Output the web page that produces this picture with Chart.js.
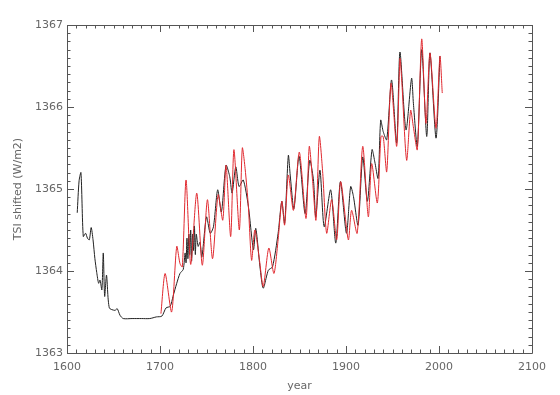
<!DOCTYPE html>
<html>
<head>
<meta charset="utf-8">
<script src="https://cdn.jsdelivr.net/npm/chart.js@4"></script>
<style>
  html, body { margin: 0; padding: 0; background: #fff; }
  #wrap { width: 560px; height: 395px; }
</style>
</head>
<body>
<div id="wrap"><canvas id="tsiChart" width="560" height="395"></canvas></div>
<script>
// TSI reconstruction (black) vs. shifted comparison series (red)
const blackYears = [1611, 1613, 1615, 1617.5, 1620, 1622, 1624, 1626, 1628, 1630, 1632, 1634, 1635.5, 1637.5, 1639, 1640.5, 1642.5, 1645.5, 1651.5, 1654, 1657, 1660.5, 1670, 1680, 1689, 1696, 1702, 1706.5, 1711, 1714, 1718, 1721.5, 1725, 1727, 1728, 1729, 1730, 1731, 1732, 1733, 1734, 1735, 1736, 1737, 1738, 1739, 1741, 1743, 1745, 1750, 1754, 1757.5, 1762, 1766, 1771, 1775, 1777.5, 1781.5, 1785, 1789.5, 1795, 1800.5, 1803, 1807.5, 1811, 1816.5, 1821, 1827, 1831, 1834, 1838, 1840, 1844, 1849.5, 1856, 1861, 1865, 1867.5, 1872, 1876.5, 1883.5, 1889, 1894, 1900.5, 1905, 1908, 1913, 1918, 1923, 1928, 1931, 1934.5, 1937.3, 1940, 1943.8, 1949, 1954.5, 1958, 1964.5, 1970.5, 1972.5, 1976.7, 1981.4, 1986.8, 1990.3, 1996.8, 2001];
const blackTSI = [1364.71, 1365.10, 1365.20, 1364.42, 1364.46, 1364.40, 1364.38, 1364.53, 1364.38, 1364.15, 1363.98, 1363.85, 1363.89, 1363.77, 1364.22, 1363.69, 1363.95, 1363.55, 1363.52, 1363.54, 1363.46, 1363.42, 1363.42, 1363.42, 1363.42, 1363.44, 1363.45, 1363.55, 1363.57, 1363.69, 1363.85, 1363.97, 1364.02, 1364.22, 1364.10, 1364.40, 1364.15, 1364.45, 1364.20, 1364.50, 1364.12, 1364.45, 1364.25, 1364.55, 1364.20, 1364.45, 1364.30, 1364.35, 1364.17, 1364.66, 1364.46, 1364.54, 1364.99, 1364.72, 1365.29, 1365.15, 1364.95, 1365.27, 1365.03, 1365.11, 1364.79, 1364.26, 1364.52, 1364.05, 1363.79, 1364.01, 1364.05, 1364.46, 1364.85, 1364.58, 1365.41, 1365.17, 1364.76, 1365.40, 1364.70, 1365.35, 1365.11, 1364.66, 1365.23, 1364.54, 1364.99, 1364.34, 1365.09, 1364.46, 1365.03, 1364.91, 1364.56, 1365.39, 1364.85, 1365.48, 1365.33, 1365.13, 1365.84, 1365.70, 1365.60, 1366.33, 1365.56, 1366.67, 1365.72, 1366.35, 1366.04, 1365.52, 1366.70, 1365.64, 1366.66, 1365.62, 1366.62];

const redYears = [1701, 1705.5, 1712.5, 1718, 1721.5, 1724, 1728, 1733, 1739.5, 1745.5, 1751, 1756.5, 1762.5, 1767.5, 1771, 1776, 1779.5, 1785.3, 1788.5, 1791.5, 1795, 1798.5, 1802, 1807, 1811, 1817, 1822.5, 1827, 1831, 1834, 1838, 1843.5, 1849.8, 1857, 1860.5, 1864, 1867.7, 1871.3, 1875, 1879.2, 1884.6, 1890, 1894.3, 1902.5, 1906, 1912, 1918, 1924, 1927.6, 1933.7, 1937.6, 1940, 1943.8, 1948.4, 1954.5, 1958, 1959.8, 1965.2, 1969.5, 1972.4, 1976.7, 1981.4, 1986, 1990.3, 1996.8, 2001, 2003.5];
const redTSI = [1363.48, 1363.97, 1363.50, 1364.30, 1364.09, 1364.05, 1365.11, 1364.08, 1364.95, 1364.07, 1364.87, 1364.15, 1364.93, 1364.62, 1365.29, 1364.42, 1365.48, 1364.50, 1365.50, 1365.25, 1364.79, 1364.13, 1364.50, 1364.13, 1363.81, 1364.28, 1363.97, 1364.38, 1364.85, 1364.56, 1365.17, 1364.74, 1365.45, 1364.64, 1365.52, 1365.11, 1364.62, 1365.64, 1365.19, 1364.46, 1364.87, 1364.38, 1365.09, 1364.38, 1364.74, 1364.46, 1365.52, 1364.66, 1365.31, 1364.83, 1365.64, 1365.64, 1365.21, 1366.29, 1365.52, 1366.59, 1366.35, 1365.35, 1365.96, 1365.76, 1365.48, 1366.83, 1365.80, 1366.66, 1365.74, 1366.62, 1366.17];

const xMin = 1600, xMax = 2100, xMajor = 100, xMinor = 10;
const yMin = 1363, yMax = 1367, yMajor = 1, yMinor = 0.1;

const axisColor = "#555";
const textColor = "#666";

function toPoints(xs, ys) {
  return xs.map((x, i) => ({ x, y: ys[i] }));
}

// IDL-style box: inward ticks on all four sides
const boxTicks = {
  id: "boxTicks",
  afterDraw(chart) {
    const { ctx, chartArea: a, scales } = chart;
    const xs = scales.x, ys = scales.y;
    ctx.save();
    ctx.strokeStyle = axisColor;
    ctx.lineWidth = 1;
    ctx.beginPath();
    ctx.rect(a.left + 0.5, a.top + 0.5, a.right - a.left, a.bottom - a.top);
    for (let v = xMin; v <= xMax + 1e-9; v += xMinor) {
      const px = Math.round(xs.getPixelForValue(v)) + 0.5;
      const len = Math.abs(v / xMajor - Math.round(v / xMajor)) < 1e-6 ? 7 : 3.5;
      ctx.moveTo(px, a.bottom); ctx.lineTo(px, a.bottom - len);
      ctx.moveTo(px, a.top); ctx.lineTo(px, a.top + len);
    }
    for (let i = 0; i <= Math.round((yMax - yMin) / yMinor); i++) {
      const v = yMin + i * yMinor;
      const py = Math.round(ys.getPixelForValue(v)) + 0.5;
      const len = i % 10 === 0 ? 7 : 3.5;
      ctx.moveTo(a.left, py); ctx.lineTo(a.left + len, py);
      ctx.moveTo(a.right, py); ctx.lineTo(a.right - len, py);
    }
    ctx.stroke();
    ctx.restore();
  }
};

new Chart(document.getElementById("tsiChart"), {
  type: "line",
  data: {
    datasets: [
      { label: "red", data: toPoints(redYears, redTSI), borderColor: "#e0282e", borderWidth: 1, pointRadius: 0, tension: 0.25 },
      { label: "black", data: toPoints(blackYears, blackTSI), borderColor: "#222", borderWidth: 1, pointRadius: 0, tension: 0.25 }
    ]
  },
  options: {
    responsive: false,
    animation: false,
    parsing: false,
    layout: { padding: { left: 0, right: 28, top: 25, bottom: 0 } },
    plugins: { legend: { display: false }, tooltip: { enabled: false } },
    scales: {
      x: {
        type: "linear", min: xMin, max: xMax,
        grid: { display: false, drawTicks: false },
        border: { display: false },
        ticks: { stepSize: xMajor, padding: 8, color: textColor, font: { family: "DejaVu Sans", size: 11 }, callback: v => String(v) },
        title: { display: true, text: "year", color: textColor, font: { family: "DejaVu Sans", size: 11 }, padding: { top: 2, bottom: 2 } },
        afterFit(scale) { scale.height = 42; }
      },
      y: {
        type: "linear", min: yMin, max: yMax,
        grid: { display: false, drawTicks: false },
        border: { display: false },
        ticks: { stepSize: yMajor, padding: 4, color: textColor, font: { family: "DejaVu Sans", size: 11 }, callback: v => String(v) },
        title: { display: true, text: "TSI shifted (W/m2)", color: textColor, font: { family: "DejaVu Sans", size: 11 }, padding: { top: 12, bottom: 0 } },
        afterFit(scale) { scale.width = 67; }
      }
    }
  },
  plugins: [boxTicks]
});
</script>
</body>
</html>
